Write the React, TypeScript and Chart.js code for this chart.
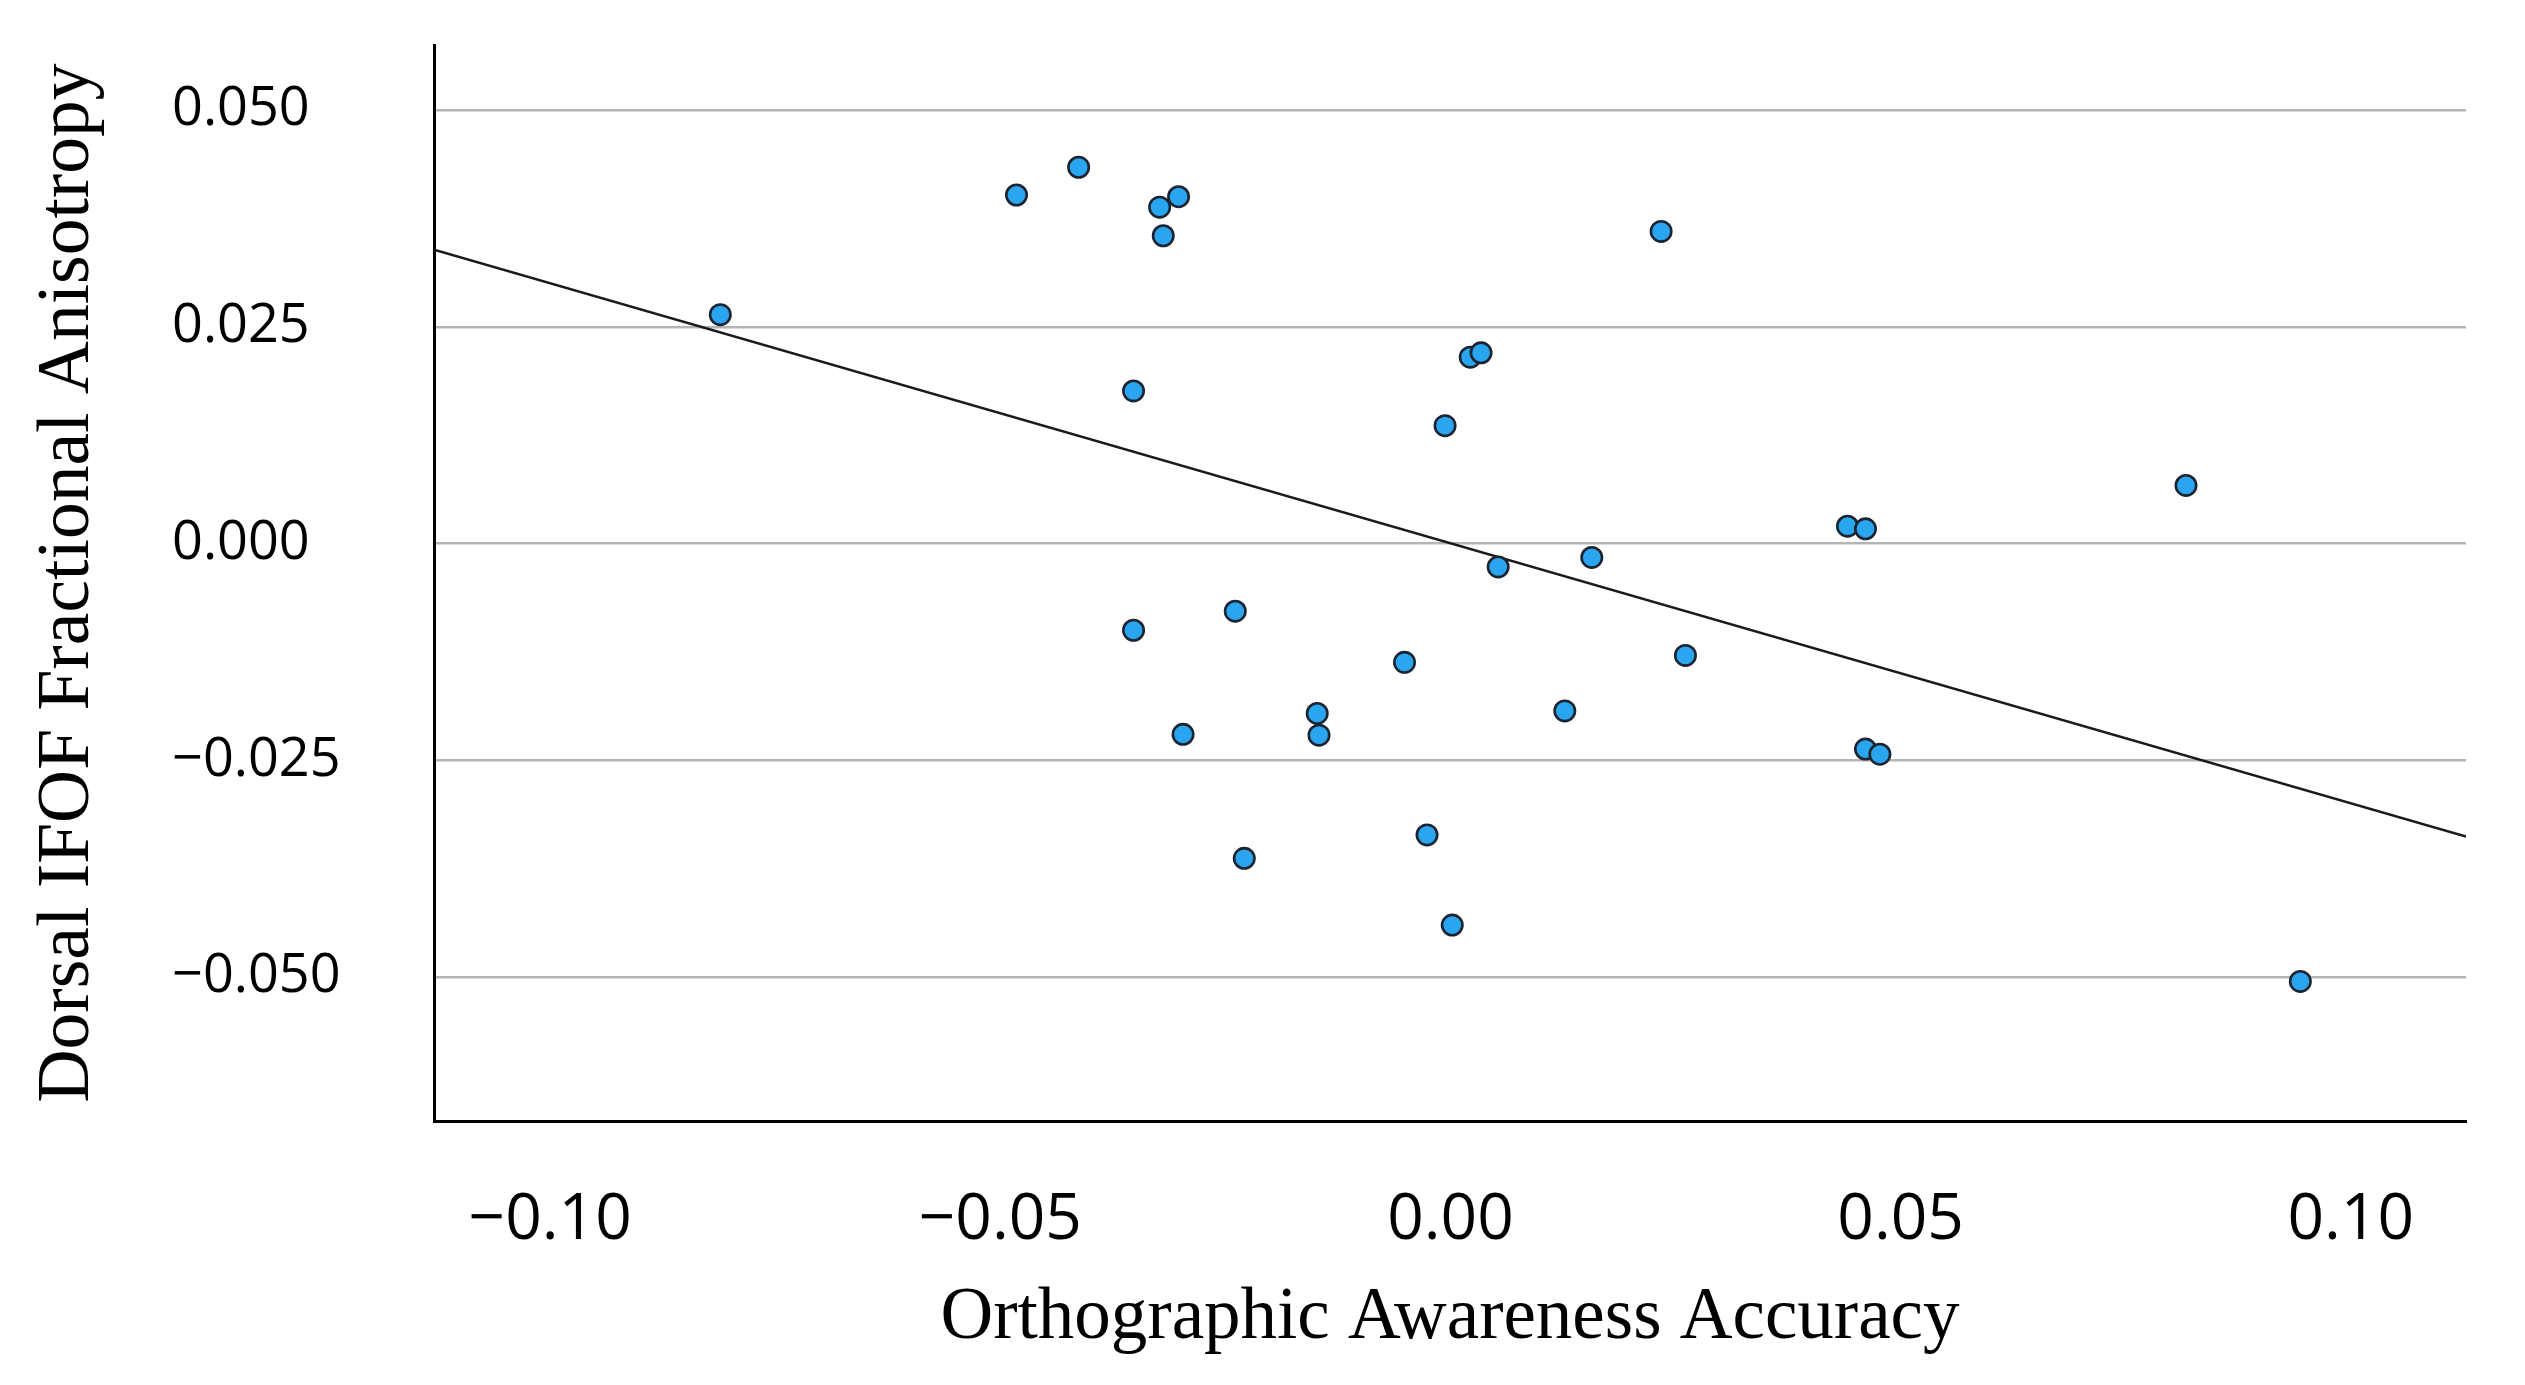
import React, { useEffect, useRef } from "react";
import { Chart, registerables } from "chart.js";

Chart.register(...registerables);

// Orthographic Awareness Accuracy (x) vs Dorsal IFOF Fractional Anisotropy (y)
const xValues = [
  -0.0811, -0.0482, -0.0413, -0.0323, -0.0302, -0.0319, -0.0352, 0.0022, 0.0034, -0.0006,
  0.0053, 0.0234, 0.0157, 0.0441, 0.0461, 0.0817, -0.0352, -0.0239, -0.0051, -0.0297,
  -0.0148, -0.0146, -0.0229, -0.0026, 0.0002, 0.0127, 0.0261, 0.0461, 0.0477, 0.0944,
];
const yValues = [
  0.0264, 0.0402, 0.0434, 0.0388, 0.04, 0.0355, 0.0176, 0.0215, 0.022, 0.0136,
  -0.0027, 0.036, -0.0016, 0.002, 0.0017, 0.0067, -0.01, -0.0078, -0.0137, -0.022,
  -0.0196, -0.0221, -0.0363, -0.0336, -0.044, -0.0193, -0.0129, -0.0237, -0.0243, -0.0505,
];

const xTicks = [-0.1, -0.05, 0, 0.05, 0.1];
const yTicks = [0.05, 0.025, 0, -0.025, -0.05];

const X_MIN = -0.1129;
const X_MAX = 0.1128;
const Y_MIN = -0.0666;
const Y_MAX = 0.0575;

const xTitle = "Orthographic Awareness Accuracy";
const yTitle = "Dorsal IFOF Fractional Anisotropy";

function fmt(v: number, d: number): string {
  const s = Math.abs(v).toFixed(d);
  return v < -1e-12 ? "\u2212" + s : s;
}

function fitLine(xs: number[], ys: number[]) {
  const n = xs.length;
  const mx = xs.reduce((a, b) => a + b, 0) / n;
  const my = ys.reduce((a, b) => a + b, 0) / n;
  let sxy = 0;
  let sxx = 0;
  for (let i = 0; i < n; i++) {
    sxy += (xs[i] - mx) * (ys[i] - my);
    sxx += (xs[i] - mx) * (xs[i] - mx);
  }
  const b = sxy / sxx;
  const a = my - b * mx;
  return { a, b };
}

export default function App() {
  const ref = useRef<HTMLCanvasElement | null>(null);

  useEffect(() => {
    if (!ref.current) return;
    const { a, b } = fitLine(xValues, yValues);
    const points = xValues.map((x, i) => ({ x, y: yValues[i] }));
    const linePts = [
      { x: X_MIN, y: a + b * X_MIN },
      { x: X_MAX, y: a + b * X_MAX },
    ];

    const chart = new Chart(ref.current, {
      type: "scatter",
      data: {
        datasets: [
          {
            type: "scatter",
            data: points,
            order: 0,
            pointRadius: 10.2,
            pointBorderWidth: 2.6,
            pointBackgroundColor: "#2aa6f0",
            pointBorderColor: "#1b2430",
            pointHoverRadius: 10.2,
          } as any,
          {
            type: "line",
            data: linePts,
            order: 1,
            borderColor: "#1a1a1a",
            borderWidth: 2.5,
            pointRadius: 0,
            fill: false,
            tension: 0,
          } as any,
        ],
      },
      options: {
        animation: false,
        responsive: false,
        devicePixelRatio: 1,
        layout: { padding: { left: 172, top: 45, right: 59, bottom: 0 } },
        plugins: {
          legend: { display: false },
          tooltip: { enabled: false },
        },
        scales: {
          x: {
            type: "linear",
            min: X_MIN,
            max: X_MAX,
            afterBuildTicks: (scale: any) => {
              scale.ticks = xTicks.map((v) => ({ value: v }));
            },
            afterFit: (scale: any) => {
              scale.height = 264;
            },
            grid: { display: false, drawTicks: false },
            border: { display: true, color: "#000000", width: 3 },
            ticks: {
              color: "#000000",
              padding: 61,
              maxRotation: 0,
              autoSkip: false,
              font: { family: "'Open Sans'", size: 64, lineHeight: 1.2 },
              callback: (v: any) => fmt(Number(v), 2),
            },
            title: {
              display: true,
              text: xTitle,
              color: "#000000",
              padding: { top: 0, bottom: 22 },
              font: { family: "'Liberation Serif'", size: 73, lineHeight: 1.2 },
            },
          },
          y: {
            type: "linear",
            min: Y_MIN,
            max: Y_MAX,
            afterBuildTicks: (scale: any) => {
              scale.ticks = yTicks.map((v) => ({ value: v }));
            },
            afterFit: (scale: any) => {
              scale.width = 262;
            },
            grid: {
              display: true,
              drawTicks: false,
              color: "#b4b4b4",
              lineWidth: 2.5,
            },
            border: { display: true, color: "#000000", width: 3 },
            ticks: {
              color: "#000000",
              padding: 0,
              crossAlign: "far",
              autoSkip: false,
              font: { family: "'Open Sans'", size: 54, lineHeight: 1.2 },
              callback: (v: any) => fmt(Number(v), 3),
            },
            title: {
              display: true,
              text: yTitle,
              color: "#000000",
              padding: { top: -147.4, bottom: 0 },
              font: { family: "'Liberation Serif'", size: 73.5, lineHeight: 1.2 },
            },
          },
        },
      } as any,
    });

    return () => {
      chart.destroy();
    };
  }, []);

  return (
    <div style={{ position: "absolute", left: 0, top: 0, width: 2525, height: 1385, background: "#ffffff" }}>
      <canvas ref={ref} width={2525} height={1385} style={{ display: "block", width: 2525, height: 1385 }} />
    </div>
  );
}
